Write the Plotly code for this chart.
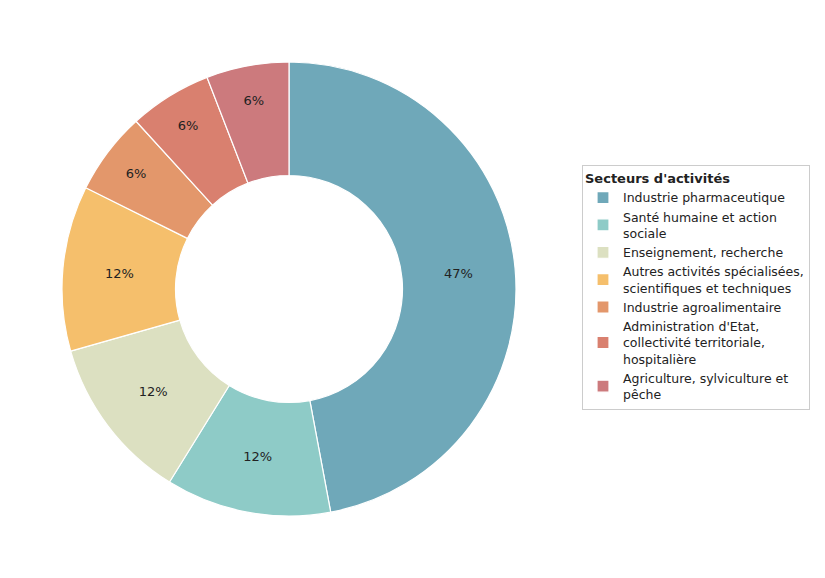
import plotly.graph_objects as go

secteurs = [
    "Industrie pharmaceutique",
    "Santé humaine et action<br>sociale",
    "Enseignement, recherche",
    "Autres activités spécialisées,<br>scientifiques et techniques",
    "Industrie agroalimentaire",
    "Administration d'Etat,<br>collectivité territoriale,<br>hospitalière",
    "Agriculture, sylviculture et<br>pêche",
]
effectifs = [8, 2, 2, 2, 1, 1, 1]
couleurs = ["#6fa8b9", "#8ecbc7", "#dce0c1", "#f5bf6c", "#e3976b", "#d9806f", "#cc7a7d"]

fig = go.Figure(go.Pie(
    labels=secteurs,
    values=effectifs,
    hole=0.5,
    sort=False,
    direction="clockwise",
    rotation=0,
    marker=dict(colors=couleurs, line=dict(color="white", width=1.2)),
    textinfo="percent",
    texttemplate="%{percent:.0%}",
    textposition="inside",
    insidetextorientation="horizontal",
    textfont=dict(size=13, color="#222222", family="DejaVu Sans"),
    domain=dict(x=[54 / 825, 508 / 825], y=[1 - 508 / 578, 1 - 54 / 578]),
))

fig.update_layout(
    width=825, height=578,
    margin=dict(l=0, r=0, t=0, b=0),
    paper_bgcolor="white",
    font=dict(family="DejaVu Sans", size=12.5, color="#222222"),
    legend=dict(
        title=dict(text="<b>Secteurs d'activités</b>", font=dict(size=13)),
        x=574 / 825, y=1 - 157 / 578, xanchor="left", yanchor="top",
        bordercolor="#cccccc", borderwidth=1,
        font=dict(size=12.5),
        tracegroupgap=2,
    ),
)

fig.write_html("out.html")
